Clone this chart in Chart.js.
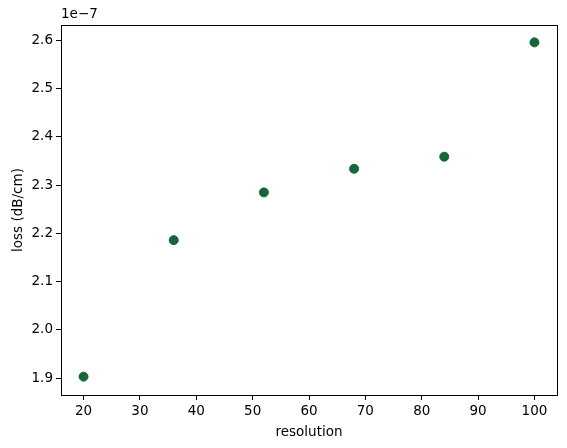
<!DOCTYPE html>
<html><head><meta charset="utf-8">
<script src="https://cdn.jsdelivr.net/npm/chart.js@4/dist/chart.umd.min.js"></script>
<style>html,body{margin:0;padding:0;background:#fff;}</style>
</head><body>
<canvas id="c" width="567" height="448"></canvas>
<script>
const resolution = [20, 36, 52, 68, 84, 100];
const loss = [1.903, 2.186, 2.285, 2.334, 2.359, 2.596]; // in units of 1e-7 dB/cm
const offsetLabel = "1e\u22127";
const xTicks = [20, 30, 40, 50, 60, 70, 80, 90, 100];
const yTicks = [1.9, 2.0, 2.1, 2.2, 2.3, 2.4, 2.5, 2.6];
const xLabel = "resolution";
const yLabel = "loss (dB/cm)";

const FONT = "'DejaVu Sans', sans-serif";
const frame = {
  id: 'frame',
  afterDraw(chart) {
    const {ctx, chartArea: a} = chart;
    ctx.save();
    ctx.strokeStyle = '#000';
    ctx.lineWidth = 1;
    ctx.strokeRect(Math.round(a.left) + 0.5, Math.round(a.top) + 0.5, Math.round(a.right - a.left), Math.round(a.bottom - a.top));
    ctx.fillStyle = '#000';
    ctx.font = "13.5px " + FONT;
    ctx.textAlign = 'left';
    ctx.textBaseline = 'bottom';
    ctx.fillText(offsetLabel, a.left, a.top - 4);
    ctx.restore();
  }
};

new Chart(document.getElementById('c'), {
  type: 'scatter',
  data: {
    datasets: [{
      data: resolution.map((x, i) => ({x: x, y: loss[i]})),
      backgroundColor: '#16663a',
      borderColor: '#16663a',
      pointRadius: 4.5,
      pointHoverRadius: 4.5
    }]
  },
  options: {
    responsive: false,
    animation: false,
    events: [],
    layout: {padding: {left: 0, right: 10, top: 25, bottom: 0}},
    plugins: {legend: {display: false}, tooltip: {enabled: false}},
    scales: {
      x: {
        type: 'linear', min: 16, max: 104,
        afterBuildTicks: s => { s.ticks = xTicks.map(v => ({value: v})); },
        afterFit: s => { s.height = 53; },
        grid: {drawOnChartArea: false, drawTicks: true, tickLength: 5, color: '#000'},
        border: {display: false},
        ticks: {color: '#000', font: {family: FONT, size: 13.5}, padding: 3, maxRotation: 0},
        title: {display: true, text: xLabel, color: '#000', font: {family: FONT, size: 13.5}, padding: {top: 2, bottom: 7}}
      },
      y: {
        type: 'linear', min: 1.865, max: 2.632,
        afterBuildTicks: s => { s.ticks = yTicks.map(v => ({value: v})); },
        afterFit: s => { s.width = 61; },
        grid: {drawOnChartArea: false, drawTicks: true, tickLength: 5, color: '#000'},
        border: {display: false},
        ticks: {color: '#000', font: {family: FONT, size: 13.5}, padding: 3, callback: v => v.toFixed(1)},
        title: {display: true, text: yLabel, color: '#000', font: {family: FONT, size: 13.5}, padding: {top: 10, bottom: 2}}
      }
    }
  },
  plugins: [frame]
});
</script>
</body></html>
